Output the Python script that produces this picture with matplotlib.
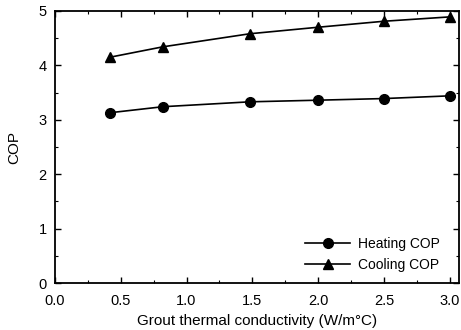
import numpy as np
import matplotlib.pyplot as plt
from matplotlib.ticker import MultipleLocator

plt.rcParams['font.family'] = ['Liberation Sans', 'DejaVu Sans']

# grout conductivity vs heat pump COP
k_grout = [0.42, 0.82, 1.48, 2.0, 2.5, 3.0]
heating_cop = [3.13, 3.24, 3.33, 3.36, 3.39, 3.44]
cooling_cop = [4.15, 4.34, 4.58, 4.70, 4.81, 4.89]

fig = plt.figure(figsize=(4.61, 3.3), dpi=100, facecolor='w')
ax = fig.add_axes([0.119, 0.142, 0.877, 0.825])

ax.plot(k_grout, heating_cop, '-o', color='k', lw=1.2, ms=7, label='Heating COP')
ax.plot(k_grout, cooling_cop, '-^', color='k', lw=1.2, ms=7, label='Cooling COP')

ax.set_xlim(0, 3.07)
ax.set_ylim(0, 5)
ax.xaxis.set_major_locator(MultipleLocator(0.5))
ax.xaxis.set_minor_locator(MultipleLocator(0.25))
ax.yaxis.set_major_locator(MultipleLocator(1))
ax.yaxis.set_minor_locator(MultipleLocator(0.5))
ax.xaxis.set_major_formatter(plt.FormatStrFormatter('%.1f'))
ax.tick_params(which='both', direction='in', top=True, right=True, labelsize=10.5)
ax.tick_params(which='major', length=4, width=1)
ax.tick_params(which='minor', length=2, width=0.8)
ax.tick_params(axis='x', pad=8)
ax.tick_params(axis='y', pad=6)
for s in ax.spines.values():
	s.set_linewidth(1.3)

ax.set_xlabel('Grout thermal conductivity (W/m\u00b0C)', fontsize=11, labelpad=4)
ax.set_ylabel('COP', fontsize=11, labelpad=12)

ax.legend(loc='lower right', bbox_to_anchor=(0.98, 0.0), frameon=False,
	fontsize=10, handlelength=3.2, handletextpad=0.6, borderaxespad=0.4,
	labelspacing=0.5)

fig.savefig('out.png', dpi=100)
